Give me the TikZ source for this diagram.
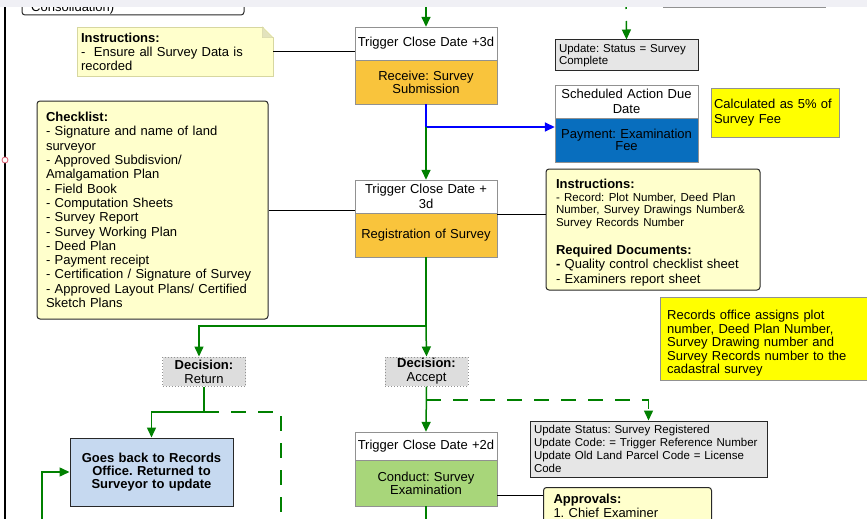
\documentclass[tikz,border=0pt]{standalone}
\usepackage{fontspec}
\setmainfont{Liberation Sans}
\usetikzlibrary{arrows.meta}

\definecolor{boxline}{RGB}{145,145,145}
\definecolor{darkline}{RGB}{40,40,40}
\definecolor{actorange}{RGB}{249,196,60}
\definecolor{actblue}{RGB}{8,110,190}
\definecolor{actgreen}{RGB}{168,214,122}
\definecolor{notepale}{RGB}{255,255,204}
\definecolor{noteedge}{RGB}{215,215,160}
\definecolor{noteyellow}{RGB}{255,255,0}
\definecolor{updgray}{RGB}{230,230,230}
\definecolor{decgray}{RGB}{221,221,221}
\definecolor{retblue}{RGB}{198,217,240}
\definecolor{flowgreen}{RGB}{0,128,0}
\definecolor{flowblue}{RGB}{0,0,255}
\definecolor{uistrip}{RGB}{240,240,245}
\definecolor{pinmark}{RGB}{220,90,110}

\begin{document}
\frenchspacing
\begin{tikzpicture}[x=1pt,y=1pt,yscale=-1,
  every node/.style={font=\fontsize{13}{15}\selectfont, inner sep=0pt},
  hdrbox/.style={draw=boxline, fill=white, minimum width=142pt, text width=140pt, align=center},
  actbox/.style={hdrbox, font=\fontsize{13}{12}\selectfont},
  updbox/.style={draw=darkline, line width=1pt, fill=updgray, align=left, inner xsep=4pt, font=\fontsize{11.5}{12.8}\selectfont},
  notebox/.style={draw=darkline, line width=1pt, rounded corners=3pt, fill=notepale, align=left},
  flagbox/.style={draw=boxline, fill=noteyellow, align=left},
  decbox/.style={draw=boxline, dotted, line width=1pt, fill=decgray, minimum width=83pt, minimum height=29pt, align=center, font=\fontsize{13}{14}\selectfont},
  tip/.style={-{Triangle[length=10pt,width=9pt]}},
  flowline/.style={draw=flowgreen, line width=1.5pt},
  flow/.style={flowline, tip},
  flowdash/.style={flowline, dash pattern=on 15pt off 12pt},
  link/.style={draw=black, line width=0.8pt}
]
\useasboundingbox (0,0) rectangle (867,519);
\fill[white] (0,0) rectangle (867,519);

%Shape: page edge
\draw[line width=1.5pt] (5,0) -- (5,519);
\draw[pinmark, fill=white, line width=0.8pt] (5,160) circle (3);

%Shape: box cut by the top of the view
\draw[darkline, line width=1pt, rounded corners=3pt] (22,-20) rectangle (244,15);
% Text Node
\node[anchor=base west] (cons) at (31,12) {Consolidation)};

% Notes on the left
\node[draw=noteedge, fill=notepale, minimum width=196pt, minimum height=49pt, text width=188pt, inner xsep=4pt, align=left, font=\fontsize{13}{14}\selectfont] (ins1) at (175,51.5) {\textbf{Instructions:}\\-\ \ Ensure all Survey Data is\\recorded};
\fill[white] ([xshift=-11pt,yshift=-1pt]ins1.north east) -- ([xshift=1pt,yshift=-1pt]ins1.north east) -- ([xshift=1pt,yshift=11pt]ins1.north east) -- cycle;
\filldraw[draw=noteedge, fill=noteedge!70!white] ([xshift=-11pt]ins1.north east) -- ([xshift=-11pt,yshift=11pt]ins1.north east) -- ([yshift=11pt]ins1.north east) -- cycle;

\node[notebox, minimum width=231pt, minimum height=218pt, text width=213pt, inner xsep=9pt, font=\fontsize{13}{14.3}\selectfont] (chk) at (152.5,210) {\textbf{Checklist:}\\
- Signature and name of land\\
surveyor\\
- Approved Subdisvion/\\
Amalgamation Plan\\
- Field Book\\
- Computation Sheets\\
- Survey Report\\
- Survey Working Plan\\
- Deed Plan\\
- Payment receipt\\
- Certification / Signature of Survey\\
- Approved Layout Plans/ Certified\\
Sketch Plans};

% Main column
\node[actbox, fill=actorange, minimum height=44pt] (rcv) at (426,82) {Receive: Survey\\Submission};
\node[hdrbox, minimum height=33pt] (trg1) at (426,43.5) {Trigger Close Date +3d};
\node[actbox, fill=actorange, minimum height=44pt] (reg) at (426,235) {Registration of Survey};
\node[hdrbox, minimum height=33pt] (trg2) at (426,196.5) {Trigger Close Date +\\3d};
\node[decbox] (decR) at (204,371.5) {\textbf{Decision:}\\Return};
\node[decbox] (decA) at (426.5,371.5) {\textbf{Decision:}\\Accept};
\node[draw=darkline, line width=1pt, fill=retblue, minimum width=163pt, minimum height=68pt, text width=155pt, align=center, font=\bfseries\fontsize{13}{13}\selectfont] (back) at (151.5,472) {Goes back to Records\\Office. Returned to\\Surveyor to update};
\node[actbox, fill=actgreen, minimum height=46pt] (exam) at (426,483) {Conduct: Survey\\Examination};
\node[hdrbox, minimum height=28pt] (trg3) at (426,446) {Trigger Close Date +2d};

% Right column
\node[updbox, minimum width=143pt, minimum height=31pt, text width=135pt] (upd1) at (626.5,55.5) {Update: Status = Survey\\Complete};
\node[actbox, fill=actblue, minimum width=143pt, minimum height=44pt] (pay) at (626.5,140) {Payment: Examination\\Fee};
\node[hdrbox, minimum width=143pt, minimum height=33pt] (sched) at (626.5,101.5) {Scheduled Action Due\\Date};
\node[flagbox, minimum width=127pt, minimum height=49pt, text width=122pt, inner xsep=3pt] (calc) at (775,112.5) {Calculated as 5\% of\\Survey Fee};
\node[notebox, minimum width=214pt, minimum height=121pt, text width=194pt, inner xsep=10pt] (ins2) at (653,229.5) {\rule{0pt}{16pt}\textbf{Instructions:}\\
\fontsize{11.5}{12.5}\selectfont - Record: Plot Number, Deed Plan\\
Number, Survey Drawings Number\&\\
Survey Records Number\\[14pt]
\fontsize{13}{14}\selectfont\textbf{Required Documents:}\\
\textbf{-} Quality control checklist sheet\\
- Examiners report sheet};
\node[flagbox, anchor=west, minimum width=220pt, minimum height=83pt, text width=206pt, inner xsep=7pt, font=\fontsize{13}{13.5}\selectfont] (rec) at (660,338.5) {\rule{0pt}{19pt}Records office assigns plot\\number, Deed Plan Number,\\Survey Drawing number and\\Survey Records number to the\\cadastral survey};
\node[updbox, minimum width=237pt, minimum height=56pt, text width=229pt] (upd2) at (648.5,449) {Update Status: Survey Registered\\Update Code: = Trigger Reference Number\\Update Old Land Parcel Code = License\\Code};
\node[notebox, anchor=north west, minimum width=168pt, text width=148pt, inner xsep=10pt, inner ysep=7pt, font=\fontsize{13}{14}\selectfont] (appr) at (543,487) {\textbf{Approvals:}\\1. Chief Examiner\\ };

% Connectors
\coordinate (topin) at (426,0);
\draw[flow] (topin) -- (trg1.north);
\coordinate (topdash) at (626,-6);
\draw[flowdash, tip] (topdash) -- (upd1.north);
\draw[link] (ins1.east) -- (ins1.east -| trg1.west);

\coordinate (paybend) at (426,127);
\draw[draw=flowblue, line width=1.5pt, tip] (rcv.south) -- (paybend) -- (paybend -| pay.west);
\draw[flow] (paybend) -- (trg2.north);
\draw[link] (chk.east) -- (chk.east -| trg2.west);
\coordinate (regout) at ([yshift=2pt]reg.north east);
\draw[link] (regout) -- (regout -| ins2.west);

\coordinate (split) at (426,326);
\draw[flowline] (reg.south) -- (split);
\draw[flow] (split) -- (decA.north);
\draw[flow] (split) -| ([xshift=-5pt]decR.north);

\coordinate (retsplit) at (204,412);
\draw[flowline] (decR.south) -- (retsplit);
\draw[flow] (retsplit) -| (back.north);
\coordinate (retdash) at (281,519);
\draw[flowdash] (retsplit) -| (retdash);
\coordinate (leftin) at (42,519);
\draw[flow] (leftin) |- (back.west);

\draw[flow] (decA.south) -- (trg3.north);
\coordinate (accsplit) at (426,400);
\draw[flowdash, tip] (accsplit) -| (upd2.north);
\coordinate (examout) at ([yshift=12pt]exam.east);
\draw[link] (examout) -- (examout -| appr.west);
\coordinate (examdown) at (426,519);
\draw[flowline] (exam.south) -- (examdown);

%Shape: strip at the top of the view
\fill[uistrip] (0,0) rectangle (867,7);
\draw[boxline, line width=1pt] (663,7.5) -- (826,7.5);

\end{tikzpicture}
\end{document}
